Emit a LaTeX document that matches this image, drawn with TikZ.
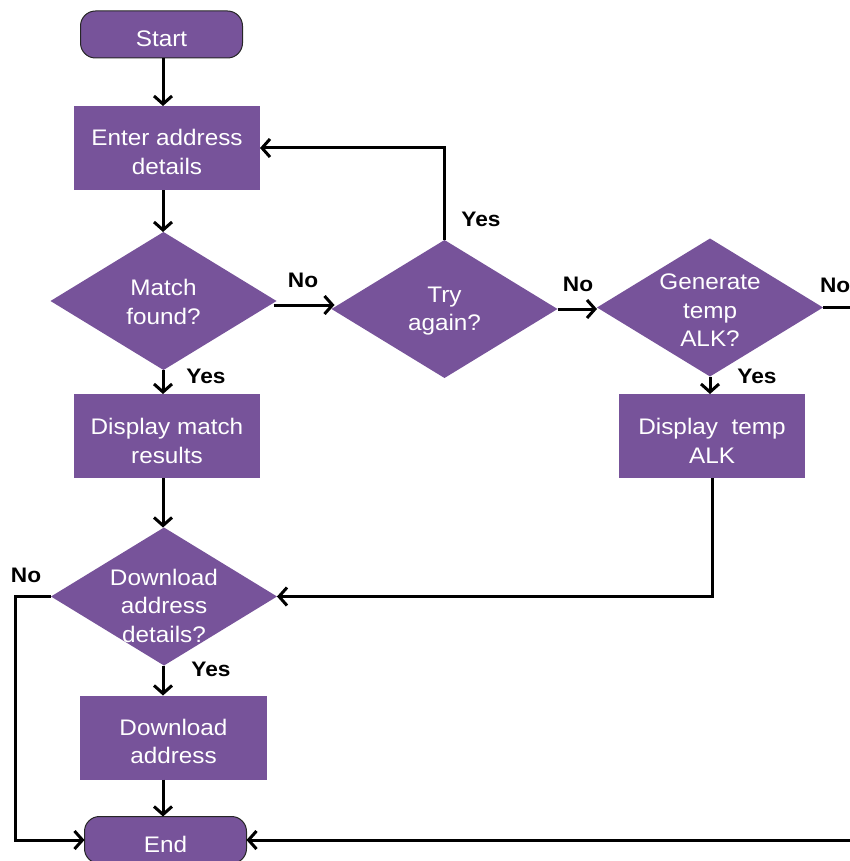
\documentclass[tikz,border=0pt]{standalone}
\usepackage{fontspec}
\setmainfont{Liberation Sans}[FakeStretch=1.08]
\usetikzlibrary{shapes.geometric,arrows.meta,calc}
\definecolor{flowpurple}{RGB}{119,83,154}
\begin{document}
\begin{tikzpicture}[x=1pt,y=-1pt,
  every node/.style={inner sep=0pt,outer sep=0pt},
  txt/.style={text=white,align=center,font=\fontsize{22.5}{28.5}\selectfont},
  boxtxt/.style={txt,text depth=0pt,yshift=-4pt},
  proc/.style={txt,fill=flowpurple,minimum width=#1,minimum height=84pt},
  proc/.default=186pt,
  term/.style={txt,fill=flowpurple,draw=black!85,line width=1pt,rounded corners=15pt,
    minimum width=162pt,minimum height=47pt},
  dec/.style={diamond,fill=flowpurple,minimum width=226pt,minimum height=138pt},
  lbl/.style={font=\bfseries\fontsize{21}{25}\selectfont},
  flow/.style={line width=3pt,-{Straight Barb[length=8pt,width=18pt]}}
]
\useasboundingbox (0,0) rectangle (849,861);
\coordinate (spine) at (163,0);

% shapes
\node[term] (start) at (161.5,34.5) {};
\node[boxtxt] (startT) at (start) {Start};
\node[proc] (enter) at (167,148) {};
\node[boxtxt] (enterT) at (enter) {Enter address\\details};
\node[dec,label={[txt,yshift=-1pt]center:{Match\\found?}}] (match) at (163.5,301) {};
\node[dec,label={[txt,yshift=-2pt]center:{Try\\again?}}] (try) at (444.5,309) {};
\node[dec,label={[txt,yshift=-3pt]center:{Generate\\temp\\ALK?}}] (gen) at (710,307.5) {};
\node[proc] (showm) at (167,436) {};
\node[boxtxt,yshift=-1pt] (showmT) at (showm) {Display match\\results};
\node[proc] (showt) at (712,436) {};
\node[boxtxt,yshift=-1pt] (showtT) at (showt) {Display\ \ temp\\ALK};
\node[dec,label={[txt,yshift=-9pt]center:{Download\\address\\details?}}] (dl) at (164,596.5) {};
\node[proc=187pt] (dla) at (173.5,737.5) {};
\node[boxtxt] (dlaT) at (dla) {Download\\address};
\node[term] (end) at (165.5,840) {};
\node[boxtxt] (endT) at (end) {End};

% connectors
\draw[flow] (start.south -| spine) -- (enter.north -| spine);
\draw[flow] (enter.south -| spine) -- (match.north -| spine);
\draw[flow] ($(match.east)+(-3,4)$) -- ($(try.west)+(3,-4)$);
\draw[flow] (try.north) -- (try.north |- enter.east) -- (enter.east);
\draw[flow] (try.east) -- (try.east -| gen.west);
\draw[flow] (gen.south) -- (gen.south |- showt.north);
\draw[flow] (match.south -| spine) -- (showm.north -| spine);
\draw[flow] (showm.south -| spine) -- (dl.north -| spine);
\draw[flow] (showt.south) -- (showt.south |- dl.east) -- (dl.east);
\draw[flow] (dl.south -| spine) -- (dla.north -| spine);
\draw[flow] (dla.south -| spine) -- (end.north -| spine);
\draw[flow] (dl.west) -- ++(-36,0) |- (end.west);
\draw[flow] (gen.east) -- ++(50,0) |- (end.east);

% branch labels
\node[lbl] (l1) at (303,280) {No};
\node[lbl] (l2) at (481,219) {Yes};
\node[lbl] (l3) at (578,284) {No};
\node[lbl,anchor=west] (l4) at (820,285) {No};
\node[lbl] (l5) at (206,376) {Yes};
\node[lbl] (l6) at (757,376) {Yes};
\node[lbl] (l7) at (26,575) {No};
\node[lbl] (l8) at (211,669) {Yes};
\end{tikzpicture}
\end{document}
